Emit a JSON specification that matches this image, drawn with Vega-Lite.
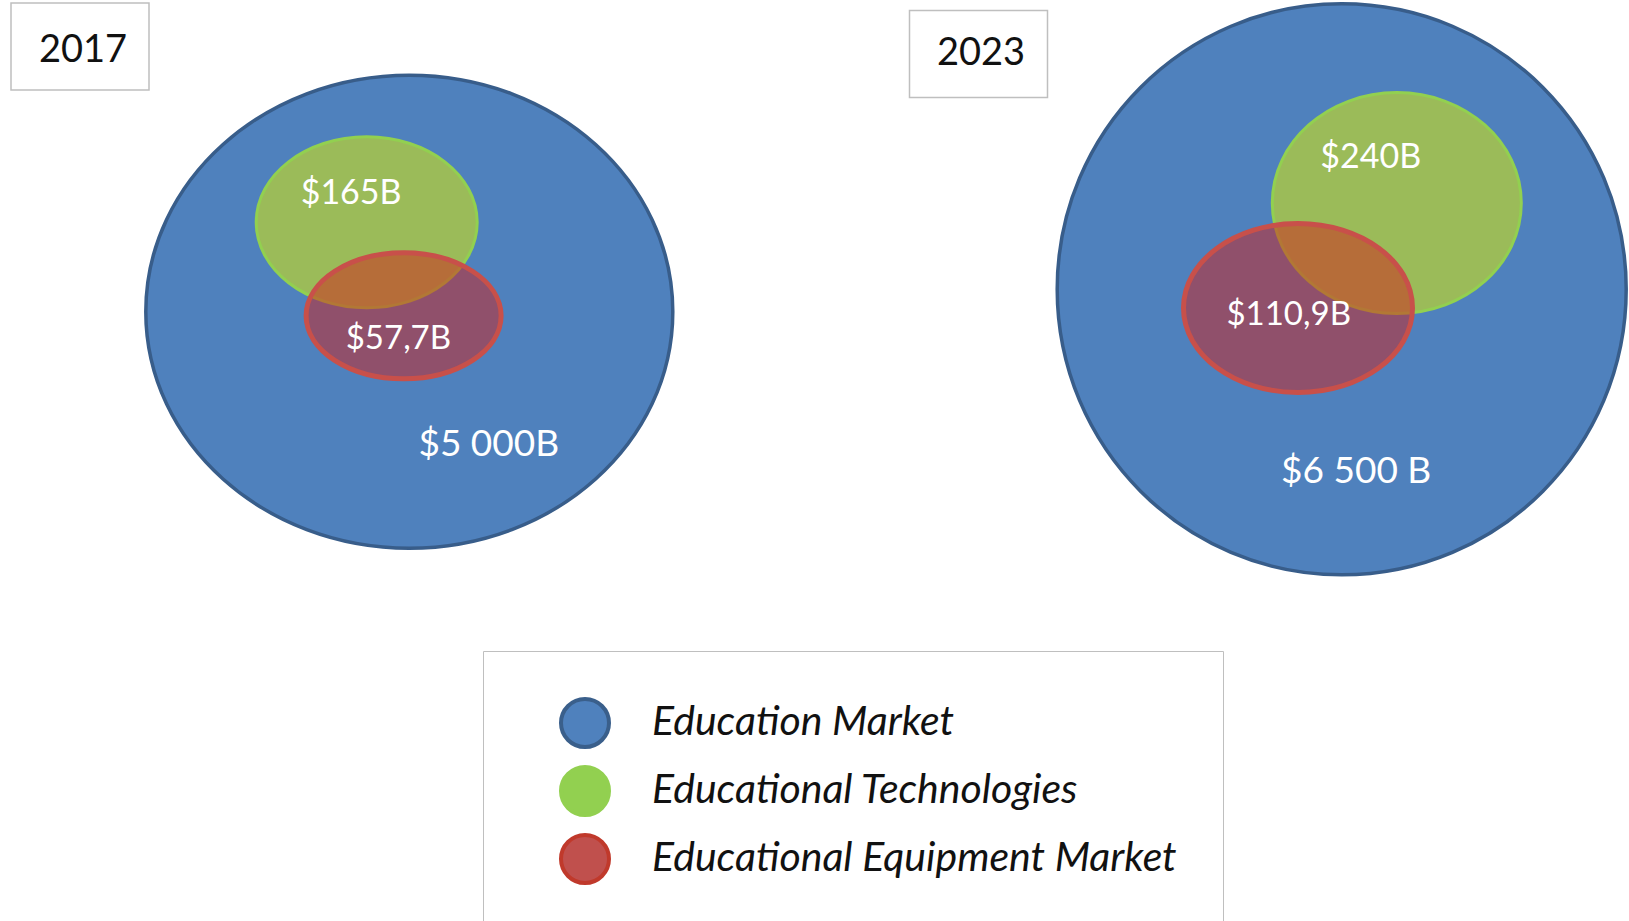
{
  "$schema": "https://vega.github.io/schema/vega-lite/v6.json",
  "width": 1629,
  "height": 921,
  "autosize": {"type": "none"},
  "padding": 0,
  "background": "white",
  "config": {"view": {"stroke": null}},
  "data": {
    "values": [
      {"year": 2017, "segment": "Education Market", "value": 5000, "label": "$5 000B"},
      {"year": 2017, "segment": "Educational Technologies", "value": 165, "label": "$165B"},
      {"year": 2017, "segment": "Educational Equipment Market", "value": 57.7, "label": "$57,7B"},
      {"year": 2023, "segment": "Education Market", "value": 6500, "label": "$6 500 B"},
      {"year": 2023, "segment": "Educational Technologies", "value": 240, "label": "$240B"},
      {"year": 2023, "segment": "Educational Equipment Market", "value": 110.9, "label": "$110,9B"}
    ]
  },
  "layer": [
    {
      "transform": [{"filter": "datum.year === 2017"}],
      "mark": {"type": "point", "filled": true, "opacity": 1, "size": 30},
      "encoding": {
        "x": {"field": "year", "type": "quantitative", "axis": null, "scale": {"domain": [2017, 2023], "range": [409.3, 1341.7], "nice": false, "zero": false}},
        "y": {"field": "year", "type": "quantitative", "axis": null, "scale": {"domain": [2017, 2023], "range": [311.7, 289.3], "nice": false, "zero": false}},
        "fill": {
          "field": "segment", "type": "nominal",
          "scale": {"domain": ["Education Market", "Educational Technologies", "Educational Equipment Market"], "range": ["#4F81BD", "#92D050", "#C0504D"]},
          "legend": {
            "title": " ", "titleOrient": "left", "titlePadding": 30, "titleFontSize": 8,
            "orient": "none", "legendX": 483, "legendY": 651, "padding": 46,
            "strokeColor": "#BFBFBF", "fillColor": "white",
            "symbolType": "circle", "symbolSize": 2304, "symbolStrokeWidth": 4,
            "labelFont": "Lato", "labelFontStyle": "italic", "labelFontSize": 41, "labelColor": "#111111",
            "labelOffset": 41, "rowPadding": 4, "labelLimit": 1000
          }
        },
        "stroke": {
          "field": "segment", "type": "nominal",
          "scale": {"domain": ["Education Market", "Educational Technologies", "Educational Equipment Market"], "range": ["#3A5F8B", "#92D050", "#C0392B"]}
        }
      }
    },
    {
      "transform": [{"filter": "datum.segment === 'Education Market'"}],
      "mark": {"type": "point", "filled": true, "opacity": 1, "size": 4, "fill": "#4F81BD", "stroke": "#385D8A", "strokeWidth": 3.5},
      "encoding": {
        "x": {"field": "year", "type": "quantitative", "axis": null, "scale": {"domain": [2017, 2023], "range": [409.3, 1341.7], "nice": false, "zero": false}},
        "y": {"field": "year", "type": "quantitative", "axis": null, "scale": {"domain": [2017, 2023], "range": [311.7, 289.3], "nice": false, "zero": false}},
        "shape": {"field": "year", "type": "nominal", "legend": null, "scale": {"domain": [2017, 2023], "range": ["M -263.5 0 A 263.5 236.5 0 1 0 263.5 0 A 263.5 236.5 0 1 0 -263.5 0 Z", "M -284.5 0 A 284.5 285.5 0 1 0 284.5 0 A 284.5 285.5 0 1 0 -284.5 0 Z"]}}
      }
    },
    {
      "transform": [{"filter": "datum.segment === 'Educational Technologies'"}],
      "mark": {"type": "point", "filled": true, "opacity": 1, "size": 4, "fill": "#9BBB59", "stroke": "#92D050", "strokeWidth": 3},
      "encoding": {
        "x": {"field": "year", "type": "quantitative", "axis": null, "scale": {"domain": [2017, 2023], "range": [366.7, 1396.8], "nice": false, "zero": false}},
        "y": {"field": "year", "type": "quantitative", "axis": null, "scale": {"domain": [2017, 2023], "range": [222.3, 203.1], "nice": false, "zero": false}},
        "shape": {"field": "year", "type": "nominal", "legend": null, "scale": {"domain": [2017, 2023], "range": ["M -110.5 0 A 110.5 85.5 0 1 0 110.5 0 A 110.5 85.5 0 1 0 -110.5 0 Z", "M -124.5 0 A 124.5 110.5 0 1 0 124.5 0 A 124.5 110.5 0 1 0 -124.5 0 Z"]}}
      }
    },
    {
      "transform": [{"filter": "datum.segment === 'Educational Equipment Market'"}],
      "mark": {"type": "point", "filled": true, "opacity": 1, "size": 4, "fill": "rgba(210,31,26,0.5)", "stroke": "#C8504A", "strokeWidth": 5},
      "encoding": {
        "x": {"field": "year", "type": "quantitative", "axis": null, "scale": {"domain": [2017, 2023], "range": [403.6, 1298], "nice": false, "zero": false}},
        "y": {"field": "year", "type": "quantitative", "axis": null, "scale": {"domain": [2017, 2023], "range": [315.8, 308], "nice": false, "zero": false}},
        "shape": {"field": "year", "type": "nominal", "legend": null, "scale": {"domain": [2017, 2023], "range": ["M -97.5 0 A 97.5 63 0 1 0 97.5 0 A 97.5 63 0 1 0 -97.5 0 Z", "M -114.5 0 A 114.5 84.5 0 1 0 114.5 0 A 114.5 84.5 0 1 0 -114.5 0 Z"]}}
      }
    },
    {
      "transform": [{"filter": "datum.segment === 'Educational Technologies'"}],
      "mark": {"type": "text", "font": "Lato", "fontSize": 34, "color": "white", "align": "center", "baseline": "middle"},
      "encoding": {
        "x": {"field": "year", "type": "quantitative", "axis": null, "scale": {"domain": [2017, 2023], "range": [351.1, 1370.8], "nice": false, "zero": false}},
        "y": {"field": "year", "type": "quantitative", "axis": null, "scale": {"domain": [2017, 2023], "range": [194, 158], "nice": false, "zero": false}},
        "text": {"field": "label"}
      }
    },
    {
      "transform": [{"filter": "datum.segment === 'Educational Equipment Market'"}],
      "mark": {"type": "text", "font": "Lato", "fontSize": 33, "color": "white", "align": "center", "baseline": "middle"},
      "encoding": {
        "x": {"field": "year", "type": "quantitative", "axis": null, "scale": {"domain": [2017, 2023], "range": [398.4, 1288.7], "nice": false, "zero": false}},
        "y": {"field": "year", "type": "quantitative", "axis": null, "scale": {"domain": [2017, 2023], "range": [338.5, 314.5], "nice": false, "zero": false}},
        "text": {"field": "label"}
      }
    },
    {
      "transform": [{"filter": "datum.segment === 'Education Market'"}],
      "mark": {"type": "text", "font": "Lato", "fontSize": 37, "color": "white", "align": "center", "baseline": "middle"},
      "encoding": {
        "x": {"field": "year", "type": "quantitative", "axis": null, "scale": {"domain": [2017, 2023], "range": [488.8, 1356.2], "nice": false, "zero": false}},
        "y": {"field": "year", "type": "quantitative", "axis": null, "scale": {"domain": [2017, 2023], "range": [444.5, 471.5], "nice": false, "zero": false}},
        "text": {"field": "label"}
      }
    },
    {
      "transform": [{"filter": "datum.segment === 'Education Market'"}],
      "mark": {"type": "point", "filled": false, "opacity": 1, "size": 4, "stroke": "#BFBFBF", "strokeWidth": 1.5, "shape": "M -69 -43.5 H 69 V 43.5 H -69 Z"},
      "encoding": {
        "x": {"field": "year", "type": "quantitative", "axis": null, "scale": {"domain": [2017, 2023], "range": [80, 978.5], "nice": false, "zero": false}},
        "y": {"field": "year", "type": "quantitative", "axis": null, "scale": {"domain": [2017, 2023], "range": [46.5, 54], "nice": false, "zero": false}}
      }
    },
    {
      "transform": [{"filter": "datum.segment === 'Education Market'"}],
      "mark": {"type": "text", "font": "Lato", "fontSize": 38, "color": "#111111", "align": "center", "baseline": "middle"},
      "encoding": {
        "x": {"field": "year", "type": "quantitative", "axis": null, "scale": {"domain": [2017, 2023], "range": [83, 981], "nice": false, "zero": false}},
        "y": {"field": "year", "type": "quantitative", "axis": null, "scale": {"domain": [2017, 2023], "range": [51, 54], "nice": false, "zero": false}},
        "text": {"field": "year", "type": "nominal"}
      }
    }
  ],
  "resolve": {"scale": {"x": "independent", "y": "independent", "shape": "independent"}}
}
